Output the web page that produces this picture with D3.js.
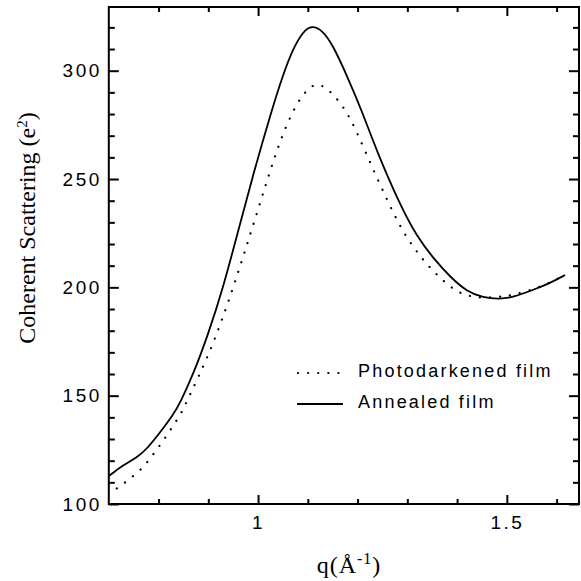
<!DOCTYPE html>
<html>
<head>
<meta charset="utf-8">
<script src="https://cdn.jsdelivr.net/npm/d3@7"></script>
<style>
  body { margin: 0; background: #fff; }
  svg { display: block; }
</style>
</head>
<body>
<div id="chart"></div>
<script>
// values
var annealedQ = [0.700, 0.729, 0.757, 0.777, 0.803, 0.829, 0.843, 0.870, 0.900, 0.930, 0.960, 0.990, 1.0275, 1.050, 1.070, 1.090, 1.108, 1.130, 1.150, 1.180, 1.208, 1.240, 1.2855, 1.319, 1.352, 1.386, 1.420, 1.452, 1.486, 1.512, 1.553, 1.587, 1.617];
var annealedV = [112.9, 118.0, 121.5, 125.5, 133.0, 141.0, 146.5, 160.0, 178.5, 200.0, 226.0, 252.0, 281.8, 298.0, 310.0, 318.0, 321.0, 318.5, 312.0, 297.0, 281.8, 262.0, 238.0, 223.5, 213.5, 204.8, 198.0, 195.2, 194.6, 195.4, 198.8, 202.0, 205.7];

var photoQ = [0.716, 0.735, 0.749, 0.765, 0.778, 0.791, 0.803, 0.814, 0.825, 0.837, 0.847, 0.855, 0.880, 0.910, 0.940, 0.970, 1.000, 1.030, 1.050, 1.074, 1.095, 1.116, 1.140, 1.175, 1.200, 1.230, 1.260, 1.2855, 1.309, 1.332, 1.359, 1.389, 1.410, 1.430, 1.450, 1.472, 1.4925, 1.512, 1.553, 1.587, 1.617];
var photoV = [107.2, 110.3, 112.9, 116.0, 119.5, 123.4, 127.2, 130.8, 134.6, 138.8, 142.6, 146.5, 158.5, 174.0, 193.0, 214.0, 236.0, 258.0, 271.0, 283.4, 290.5, 294.5, 292.0, 282.7, 271.0, 255.0, 240.0, 228.0, 219.5, 212.6, 205.7, 199.7, 196.9, 195.7, 195.2, 195.5, 195.7, 196.5, 199.0, 202.2, 205.7];

var xMajor = [1, 1.5];
var xMinor = [0.8, 0.9, 1.1, 1.2, 1.3, 1.4, 1.6];
var yMajor = [100, 150, 200, 250, 300];
var yMinor = [110, 120, 130, 140, 160, 170, 180, 190, 210, 220, 230, 240, 260, 270, 280, 290, 310, 320];

var legendNames = ["Photodarkened film", "Annealed film"];

var width = 581, height = 581;
var plotLeft = 108.8, plotRight = 579, plotTop = 7, plotBottom = 504;

var svg = d3.select("#chart").append("svg")
    .attr("width", width)
    .attr("height", height);

var x = d3.scaleLinear().domain([0.7, 1.645]).range([plotLeft, plotRight]);
var y = d3.scaleLinear().domain([100, 329.4]).range([plotBottom, plotTop]);

var tickFont = "19px 'Liberation Sans', Arial, sans-serif";

function drawAxis(axis, tx, ty, vals, len, labels) {
    var g = svg.append("g")
        .attr("transform", "translate(" + tx + "," + ty + ")")
        .call(axis.tickValues(vals).tickSizeInner(-len).tickSizeOuter(0)
            .tickFormat(labels ? d3.format("") : ""));
    g.select(".domain").remove();
    g.selectAll("line").attr("stroke", "#000").attr("stroke-width", 2);
    g.selectAll("text").style("font", tickFont).style("letter-spacing", "2.5px").attr("fill", "#000");
    return g;
}

// bottom
drawAxis(d3.axisBottom(x).tickPadding(12), 0, plotBottom, xMajor, 9, true);
drawAxis(d3.axisBottom(x), 0, plotBottom, xMinor, 5, false);
// top
drawAxis(d3.axisTop(x), 0, plotTop, xMajor, 9, false);
drawAxis(d3.axisTop(x), 0, plotTop, xMinor, 5, false);
// left
drawAxis(d3.axisLeft(y).tickPadding(7), plotLeft, 0, yMajor, 10, true);
drawAxis(d3.axisLeft(y), plotLeft, 0, yMinor, 6, false);
// right
drawAxis(d3.axisRight(y), plotRight, 0, yMajor, 10, false);
drawAxis(d3.axisRight(y), plotRight, 0, yMinor, 6, false);

// frame
svg.append("rect")
    .attr("x", plotLeft).attr("y", plotTop)
    .attr("width", plotRight - plotLeft).attr("height", plotBottom - plotTop)
    .attr("fill", "none").attr("stroke", "#000").attr("stroke-width", 2);

var line = d3.line()
    .x(function (d) { return x(d[0]); })
    .y(function (d) { return y(d[1]); })
    .curve(d3.curveBasis);

svg.append("path")
    .datum(d3.zip(photoQ, photoV))
    .attr("fill", "none")
    .attr("stroke", "#000")
    .attr("stroke-width", 2.2)
    .attr("stroke-linecap", "round")
    .attr("stroke-dasharray", "0.1,10")
    .attr("d", line);

svg.append("path")
    .datum(d3.zip(annealedQ, annealedV))
    .attr("fill", "none")
    .attr("stroke", "#000")
    .attr("stroke-width", 1.8)
    .attr("d", line);

// legend
var legend = svg.append("g");
legend.append("line")
    .attr("x1", 298).attr("x2", 340).attr("y1", 373).attr("y2", 373)
    .attr("stroke", "#000").attr("stroke-width", 2.2)
    .attr("stroke-linecap", "round").attr("stroke-dasharray", "0.1,10");
legend.append("line")
    .attr("x1", 297).attr("x2", 343).attr("y1", 404).attr("y2", 404)
    .attr("stroke", "#000").attr("stroke-width", 1.8);
legend.selectAll("text.leg")
    .data(legendNames)
    .enter().append("text")
    .attr("class", "leg")
    .attr("x", 358)
    .attr("y", function (d, i) { return 377 + i * 31; })
    .style("font", "18px 'Liberation Sans', Arial, sans-serif")
    .style("letter-spacing", "2.2px")
    .text(function (d) { return d; });

// axis titles
var xt = svg.append("text")
    .attr("x", 349).attr("y", 573)
    .attr("text-anchor", "middle")
    .style("font", "24px 'Liberation Serif', 'Times New Roman', serif")
    .style("letter-spacing", "1px");
xt.append("tspan").text("q(Å");
xt.append("tspan").attr("dy", -9).style("font-size", "16px").text("-1");
xt.append("tspan").attr("dy", 9).text(")");

var yt = svg.append("text")
    .attr("text-anchor", "middle")
    .attr("transform", "translate(35,228)rotate(-90)")
    .style("font", "24px 'Liberation Serif', 'Times New Roman', serif");
yt.append("tspan").text("Coherent Scattering (e");
yt.append("tspan").attr("dy", -8).style("font-size", "15px").text("2");
yt.append("tspan").attr("dy", 8).text(")");
</script>
</body>
</html>
